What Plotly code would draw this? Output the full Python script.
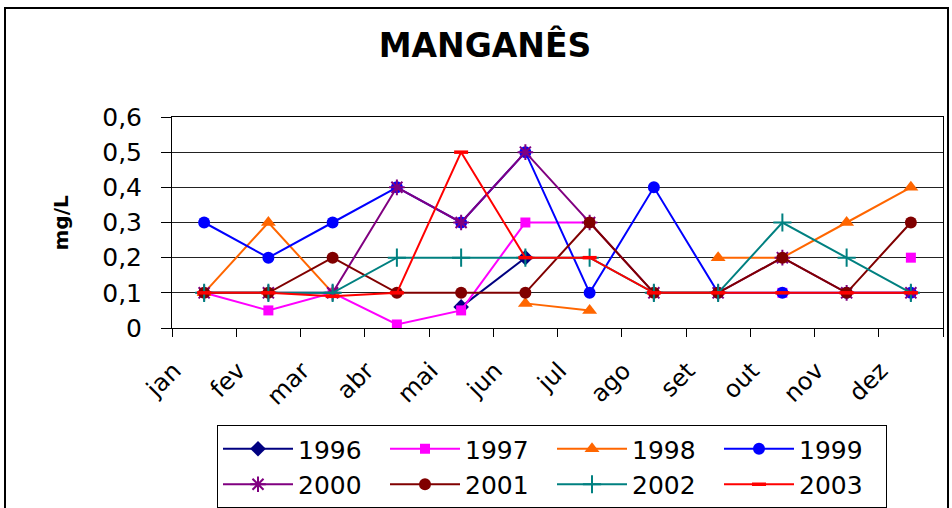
import plotly.graph_objects as go
import numpy as np

months = ["jan", "fev", "mar", "abr", "mai", "jun", "jul", "ago", "set", "out", "nov", "dez"]
N = None
s1996 = [N, N, N, N, 0.06, 0.2, N, N, N, N, N, N]
s1997 = [0.1, 0.05, 0.1, 0.01, 0.05, 0.3, 0.3, N, N, 0.1, N, 0.2]
s1998 = [0.1, 0.3, 0.1, N, N, 0.07, 0.05, N, 0.2, 0.2, 0.3, 0.4]
s1999 = [0.3, 0.2, 0.3, 0.4, 0.3, 0.5, 0.1, 0.4, 0.1, 0.1, 0.1, 0.1]
s2000 = [0.1, 0.1, 0.1, 0.4, 0.3, 0.5, 0.3, 0.1, 0.1, 0.2, 0.1, 0.1]
s2001 = [0.1, 0.1, 0.2, 0.1, 0.1, 0.1, 0.3, 0.1, 0.1, 0.2, 0.1, 0.3]
s2002 = [0.1, 0.1, 0.1, 0.2, 0.2, 0.2, 0.2, 0.1, 0.1, 0.3, 0.2, 0.1]
s2003 = [0.1, 0.1, 0.09, 0.1, 0.5, 0.2, 0.2, 0.1, 0.1, 0.1, 0.1, 0.1]

y_ticks = [0, 0.1, 0.2, 0.3, 0.4, 0.5, 0.6]
y_tick_labels = ["0", "0,1", "0,2", "0,3", "0,4", "0,5", "0,6"]

series = [
    ("1996", s1996, "#000080", "diamond", 12, 0),
    ("1997", s1997, "#FF00FF", "square", 10, 0),
    ("1998", s1998, "#FF6600", "triangle-up", 13, 0),
    ("1999", s1999, "#0000FF", "circle", 12, 0),
    ("2000", s2000, "#800080", "asterisk-open", 13, 2),
    ("2001", s2001, "#800000", "circle", 12, 0),
    ("2002", s2002, "#008080", "cross-thin-open", 13, 2),
    ("2003", s2003, "#FF0000", "line-ew-open", 10, 3.5),
]

# category centres (points sit between the boundary tick marks)
xpos = np.arange(len(months)) + 0.5

fig = go.Figure()
for name, vals, color, sym, size, lw in series:
    marker = dict(symbol=sym, size=size, color=color)
    if lw:
        marker["line"] = dict(color=color, width=lw)
    fig.add_trace(go.Scatter(
        x=xpos, y=vals, name=name, mode="lines+markers",
        line=dict(color=color, width=2), marker=marker,
        connectgaps=False,
    ))

fontfam = "DejaVu Sans"
W, H = 952, 508
L, R, T, B = 172, 9, 117, 180
pw, ph = W - L - R, H - T - B

fig.update_layout(
    width=W, height=H,
    margin=dict(l=L, r=R, t=T, b=B, autoexpand=False),
    paper_bgcolor="white", plot_bgcolor="white",
    font=dict(family=fontfam, color="black"),
    title=dict(text="<b>MANGANÊS</b>", x=485 / W, xref="container", xanchor="center",
               y=1 - 45 / H, yref="container", yanchor="middle",
               font=dict(family=fontfam, size=33, color="black")),
    xaxis=dict(range=[0, len(months)], tickmode="array",
               tickvals=list(range(len(months) + 1)), ticktext=months + [""],
               tickangle=-45, ticks="outside", ticklen=8, tickcolor="black", tickwidth=1,
               showline=True, linecolor="black", linewidth=1, mirror=True,
               showgrid=False, zeroline=False,
               tickfont=dict(family=fontfam, size=24, color="black"),
               ticklabelshift=2, ticklabelstandoff=10),
    yaxis=dict(range=[0, 0.6], tickmode="array", tickvals=y_ticks, ticktext=y_tick_labels,
               ticks="outside", ticklen=10, tickcolor="black", tickwidth=1,
               showline=True, linecolor="black", linewidth=1, mirror=True,
               showgrid=True, gridcolor="#222222", gridwidth=1, zeroline=False,
               tickfont=dict(family=fontfam, size=25, color="black"),
               ticklabelstandoff=14),
    legend=dict(orientation="h", x=(217 - L) / pw, xanchor="left",
                y=(H - B - 425) / ph, yanchor="top",
                bordercolor="black", borderwidth=1, bgcolor="white",
                font=dict(family=fontfam, size=25, color="black"),
                itemwidth=70, entrywidth=82, entrywidthmode="pixels",
                traceorder="normal"),
    showlegend=True,
    annotations=[dict(text="<b>mg/L</b>", xref="paper", yref="paper",
                      x=(60 - L) / pw, y=0.5, xanchor="center", yanchor="middle",
                      textangle=-90, showarrow=False,
                      font=dict(family=fontfam, size=20, color="black"))],
    shapes=[dict(type="rect", xref="paper", yref="paper",
                 x0=(5 - L) / pw, x1=(948 - L) / pw,
                 y0=(H - B - 520) / ph, y1=(H - B - 8) / ph,
                 line=dict(color="black", width=2), fillcolor="rgba(0,0,0,0)")],
)

fig.write_html("out.html", config={"displayModeBar": False},
               post_script="document.body.style.margin='0';document.body.style.overflow='hidden';")
